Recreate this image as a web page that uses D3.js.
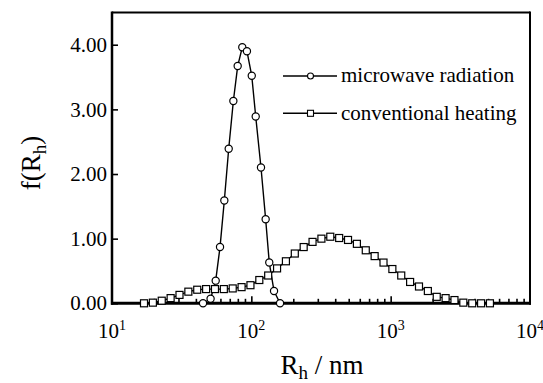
<!DOCTYPE html>
<html>
<head>
<meta charset="utf-8">
<script src="https://cdn.jsdelivr.net/npm/d3@7"></script>
<style>
  html, body { margin: 0; padding: 0; background: #fff; }
  svg { display: block; }
  svg text { font-family: "Liberation Serif", "Times New Roman", Times, "DejaVu Serif", serif; }
</style>
</head>
<body>
<svg id="chart" width="543" height="383" font-family="Liberation Serif, Times New Roman, serif"></svg>
<script>
// ---- data ----
const microwaveR = [45, 51, 55.5, 59.6, 64, 68.8, 74.3, 79.8, 86.1, 93.0, 100.7, 107.5, 117.3, 126.7, 134.5, 145.5, 160.7];
const microwaveF = [0.00, 0.07, 0.35, 0.87, 1.59, 2.39, 3.13, 3.67, 3.96, 3.90, 3.52, 2.89, 2.10, 1.30, 0.63, 0.19, 0.00];

const conventionalR = [16.97, 19.65, 22.75, 26.35, 30.51, 35.32, 40.90, 47.36, 54.83, 63.49,
  73.51, 85.11, 98.55, 114.1, 132.1, 153.0, 177.1, 205.1, 237.5, 275.0,
  318.4, 368.7, 426.9, 494.3, 572.3, 662.7, 767.3, 888.4, 1028.5, 1191,
  1379, 1597, 1849, 2141, 2479, 2870, 3323, 3848, 4455, 5158];
const conventionalF = [0.00, 0.01, 0.04, 0.08, 0.13, 0.18, 0.21, 0.22, 0.22, 0.22,
  0.23, 0.25, 0.28, 0.36, 0.43, 0.54, 0.65, 0.77, 0.87, 0.95,
  1.00, 1.03, 1.01, 0.98, 0.92, 0.82, 0.73, 0.63, 0.53, 0.43,
  0.33, 0.26, 0.19, 0.10, 0.08, 0.05, 0.01, 0.00, 0.00, 0.00];

const yTicks = [0, 1, 2, 3, 4];
const yTickLabels = ["0.00", "1.00", "2.00", "3.00", "4.00"];
const xTickExponents = [1, 2, 3, 4];
const seriesNames = ["microwave radiation", "conventional heating"];

// ---- layout ----
const FONT = "Liberation Serif, Times New Roman, serif";
const svg = d3.select("#chart");
const L = 112, R = 530, T = 12.4, B = 303.3;
const x = d3.scaleLog().domain([10, 10000]).range([L, R]);
const y = d3.scaleLinear().domain([0, 4.5]).range([B, T]);

// minor / major ticks on the bottom axis (pointing inward)
const xAxis = d3.axisBottom(x)
  .tickValues(x.ticks().filter(v => v > 10 && v < 10000))
  .tickSize(-4)
  .tickFormat("");
const gx = svg.append("g").attr("transform", `translate(0,${B})`).call(xAxis);
gx.select(".domain").remove();
gx.selectAll(".tick line")
  .attr("stroke", "#000")
  .attr("stroke-width", 1.6)
  .attr("y2", d => (Math.abs(Math.log10(d) - Math.round(Math.log10(d))) < 1e-9) ? -7 : -4.5);

// y axis ticks (inward)
const yAxis = d3.axisLeft(y).tickValues(yTicks).tickSize(-6).tickPadding(0).tickFormat("");
const gy = svg.append("g").attr("transform", `translate(${L},0)`).call(yAxis);
gy.select(".domain").remove();
gy.selectAll(".tick line").attr("stroke", "#000").attr("stroke-width", 1.6);

// y tick labels
svg.append("g").selectAll("text").data(yTicks).join("text")
  .attr("x", L - 5)
  .attr("y", d => y(d))
  .attr("dy", "0.34em")
  .attr("text-anchor", "end")
  .attr("font-family", FONT)
  .attr("font-size", 21)
  .text((d, i) => yTickLabels[i]);

// x tick labels 10^n
const xl = svg.append("g").selectAll("text").data(xTickExponents).join("text")
  .attr("x", d => x(Math.pow(10, d)))
  .attr("y", 338)
  .attr("text-anchor", "middle")
  .attr("font-family", FONT)
  .attr("font-size", 21);
xl.append("tspan").text("10");
xl.append("tspan").attr("dy", -8).attr("font-size", 14).text(d => d);

// frame
svg.append("line").attr("x1", L).attr("x2", R).attr("y1", T).attr("y2", T).attr("stroke", "#000").attr("stroke-width", 2);
svg.append("line").attr("x1", R).attr("x2", R).attr("y1", T - 1).attr("y2", B + 1.5).attr("stroke", "#000").attr("stroke-width", 2);
svg.append("line").attr("x1", L).attr("x2", L).attr("y1", T - 1).attr("y2", B + 1.5).attr("stroke", "#000").attr("stroke-width", 2.5);
svg.append("line").attr("x1", L - 1).attr("x2", R + 1).attr("y1", B).attr("y2", B).attr("stroke", "#000").attr("stroke-width", 3);

// series
const line = d3.line().x(d => x(d[0])).y(d => y(d[1]));
const mw = microwaveR.map((r, i) => [r, microwaveF[i]]);
const cv = conventionalR.map((r, i) => [r, conventionalF[i]]);

svg.append("path").datum(mw).attr("d", line).attr("fill", "none").attr("stroke", "#000").attr("stroke-width", 1.4);
svg.append("g").selectAll("circle").data(mw).join("circle")
  .attr("cx", d => x(d[0])).attr("cy", d => y(d[1])).attr("r", 3.6)
  .attr("fill", "#fff").attr("stroke", "#000").attr("stroke-width", 1.2);

svg.append("path").datum(cv).attr("d", line).attr("fill", "none").attr("stroke", "#000").attr("stroke-width", 1.4);
const sq = 7;
svg.append("g").selectAll("rect").data(cv).join("rect")
  .attr("x", d => x(d[0]) - sq / 2).attr("y", d => y(d[1]) - sq / 2)
  .attr("width", sq).attr("height", sq)
  .attr("fill", "#fff").attr("stroke", "#000").attr("stroke-width", 1.2);

// legend
const legY = [76, 113.3];
const lg = svg.append("g");
seriesNames.forEach((name, i) => {
  const yy = legY[i];
  lg.append("line").attr("x1", 283).attr("x2", 337).attr("y1", yy).attr("y2", yy).attr("stroke", "#000").attr("stroke-width", 1.4);
  if (i === 0) {
    lg.append("circle").attr("cx", 310.5).attr("cy", yy).attr("r", 3).attr("fill", "#fff").attr("stroke", "#000").attr("stroke-width", 1.1);
  } else {
    lg.append("rect").attr("x", 310.5 - 3).attr("y", yy - 3).attr("width", 6).attr("height", 6).attr("fill", "#fff").attr("stroke", "#000").attr("stroke-width", 1.1);
  }
  lg.append("text").attr("x", 341).attr("y", yy).attr("dy", "0.3em")
    .attr("font-family", FONT).attr("font-size", 21).text(name);
});

// axis titles
const yt = svg.append("text")
  .attr("transform", "translate(40,163) rotate(-90)")
  .attr("text-anchor", "middle")
  .attr("font-family", FONT)
  .attr("font-size", 27);
yt.append("tspan").text("f(R");
yt.append("tspan").attr("font-size", 19).attr("dy", 6).text("h");
yt.append("tspan").attr("dy", -6).text(")");

const xt = svg.append("text")
  .attr("x", 322).attr("y", 374)
  .attr("text-anchor", "middle")
  .attr("font-family", FONT)
  .attr("font-size", 27);
xt.append("tspan").text("R");
xt.append("tspan").attr("font-size", 19).attr("dy", 5).text("h");
xt.append("tspan").attr("dy", -5).text(" / nm");
</script>
</body>
</html>
